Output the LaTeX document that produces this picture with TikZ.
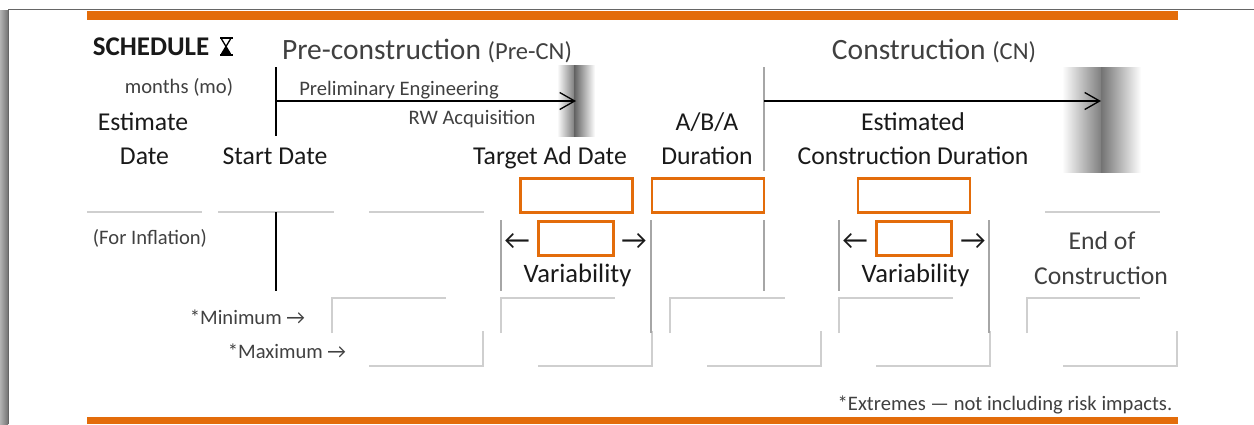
\documentclass[tikz,border=0pt]{standalone}
\usepackage{fontspec}
\setmainfont{Carlito}
\usetikzlibrary{arrows.meta}
\definecolor{orbar}{HTML}{E36C0A}
\definecolor{txtd}{HTML}{404040}
\definecolor{lineg}{HTML}{CFCFCF}
\definecolor{lineh}{HTML}{A6A6A6}
\tikzset{
  lab/.style={anchor=base,inner sep=0pt,outer sep=0pt,text=black!90},
  big/.style={lab,font=\fontsize{25.7}{25}\selectfont},
  head/.style={lab,text=txtd,font=\fontsize{29.5}{29}\selectfont},
  small/.style={lab,text=txtd,font=\fontsize{20.6}{20}\selectfont},
  glyph/.style={lab,font=\fontsize{28}{28}\selectfont},
  fieldbox/.style={draw=orbar,line width=2.4pt,fill=white,minimum width=112pt,minimum height=34pt,inner sep=0pt,outer sep=0pt},
  varbox/.style={fieldbox,minimum width=75pt},
  glow/.style={draw=lineg,line width=2.6pt},
  tick/.style={draw=lineh,line width=2.4pt},
  stem/.style={draw=black,line width=2pt},
  flow/.style={draw=black,line width=1.3pt,-{Straight Barb[length=15pt,width=17pt,line width=1.3pt]}},
}
\begin{document}
\begin{tikzpicture}[x=1pt,y=-1pt]
\useasboundingbox (0,0) rectangle (1254,424);
% window frame
\fill[left color=black!30,right color=black!55] (0,10) rectangle (8,424);
\draw[black!60,line width=1pt] (8,424) -- (8,9) -- (1254,9);
% bars
\fill[orbar] (87,11) rectangle (1178,20);
\fill[orbar] (87,417) rectangle (1178,424);
% gradient bands
\fill[left color=white,right color=black!50] (557,65) rectangle (574,136);
\fill[left color=black!62,right color=white] (574,65) rectangle (595,136);
\fill[left color=white,right color=black!50] (1062,67) rectangle (1101,172);
\fill[left color=black!55,right color=white] (1101,67) rectangle (1141,172);
% headings
\node[lab,font=\fontsize{27}{27}\selectfont\bfseries] (sched) at (151,55) {SCHEDULE};
% hourglass symbol (no installed family has it)
\fill[black] (219.5,37) rectangle (232.5,39.2);
\fill[black] (219.5,53.6) rectangle (232.5,55.8);
\draw[black,line width=1.3pt] (221.5,39) -- (230.5,54);
\draw[black,line width=1.3pt] (230.5,39) -- (221.5,54);
\fill[black] (226,46.5) -- (230.5,54) -- (221.5,54) -- cycle;
\node[head] (prec) at (427,59) {Pre-construction \fontsize{24.5}{24}\selectfont(Pre-CN)};
\node[head] (cons) at (934,59) {Construction \fontsize{24.5}{24}\selectfont(CN)};
\node[small] (months) at (179,93) {months (mo)};
\node[small] (prelim) at (399,95) {Preliminary Engineering};
\node[small] (rw) at (472,124) {RW Acquisition};
\node[big] (est) at (143,130) {Estimate};
\node[big] (date) at (144.5,164) {Date};
\node[big] (start) at (275,164) {Start Date};
\node[big] (target) at (550,164) {Target Ad Date};
\node[big] (aba) at (707,130) {A/B/A};
\node[big] (dur) at (707,164) {Duration};
\node[big] (estc) at (913,130) {Estimated};
\node[big] (ecd) at (913,164) {Construction Duration};
\node[small] (infl) at (150,244) {(For Inflation)};
\node[big,font=\fontsize{26.6}{26}\selectfont] (var1) at (577.5,282) {Variability};
\node[big,font=\fontsize{26.6}{26}\selectfont] (var2) at (915.5,282) {Variability};
\node[big,text=txtd] (endof) at (1102,249) {End of};
\node[big,text=txtd] (econs) at (1101,284) {Construction};
\node[small] (minl) at (247.5,324) {*Minimum →};
\node[small] (maxl) at (287,358) {*Maximum →};
\node[small] (ext) at (1005,410) {*Extremes — not including risk impacts.};
\node[glyph] (la1) at (517,249) {←};
\node[glyph] (ra1) at (634,249) {→};
\node[glyph] (la2) at (855,249) {←};
\node[glyph] (ra2) at (973,249) {→};
% orange boxes
\node[fieldbox] (b1) at (576.5,195.5) {};
\node[fieldbox] (b2) at (708,195.5) {};
\node[fieldbox] (b3) at (914,195.5) {};
\node[varbox] (v1) at (576,238.5) {};
\node[varbox] (v2) at (914,238.5) {};
% grey lines
\draw[glow] (87,212) -- (202,212);
\draw[glow] (218,212) -- (334,212);
\draw[glow] (369,212) -- (484,212);
\draw[glow] (1045,212) -- (1160,212);
% min brackets
\foreach \a/\b in {332/446,501/615,670/785,839/953,1027/1140}
  \draw[glow] (\a,333) -- (\a,298) -- (\b,298);
% max brackets
\foreach \a/\b in {369/483,538/652,707/821,876/990,1063/1177}
  \draw[glow] (\a,366) -- (\b,366) -- (\b,331);
% vertical ticks
\draw[tick] (501,220) -- (501,291);
\draw[tick] (651,220) -- (651,333);
\draw[tick] (764,220) -- (764,291);
\draw[tick] (839,220) -- (839,291);
\draw[tick] (989,220) -- (989,333);
\draw[tick] (764,67) -- (764,171);
\draw[stem] (276,67) -- (276,136);
\draw[stem] (276,212) -- (276,291);
% arrows
\coordinate (a0) at (276,101);
\coordinate (a1) at (576,101);
\coordinate (c0) at (764,101);
\coordinate (c1) at (1101,101);
\draw[flow] (a0) -- (a1);
\draw[flow] (c0) -- (c1);
\end{tikzpicture}
\end{document}
